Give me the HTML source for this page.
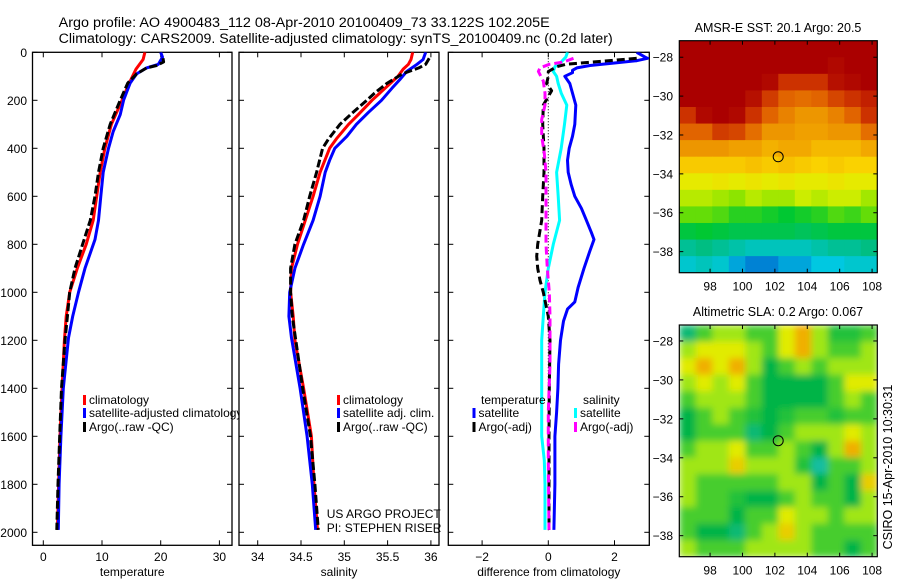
<!DOCTYPE html>
<html><head><meta charset="utf-8">
<style>
html,body{margin:0;padding:0;background:#fff;}
svg{display:block;font-family:"Liberation Sans",sans-serif;}
text{font-size:12px;fill:#000;}
</style></head>
<body>
<svg id="fig" width="900" height="580" viewBox="0 0 900 580" xmlns="http://www.w3.org/2000/svg">
<defs>
  <clipPath id="c1"><rect x="32.5" y="52.3" width="199.5" height="493"/></clipPath>
  <clipPath id="c2"><rect x="239" y="52.3" width="200" height="493"/></clipPath>
  <clipPath id="c3"><rect x="448.3" y="52.3" width="201" height="493"/></clipPath>
  <clipPath id="cm1"><rect x="679.3" y="40.7" width="198" height="232"/></clipPath>
  <clipPath id="cm2"><rect x="679.3" y="325" width="198" height="231.7"/></clipPath>
  <filter id="blur" x="0" y="0" width="1" height="1" filterUnits="objectBoundingBox">
    <feGaussianBlur stdDeviation="3.5" edgeMode="duplicate"/>
  </filter>
</defs>
<text x="58.7" y="27" style="font-size:13.5px" textLength="491" lengthAdjust="spacingAndGlyphs">Argo profile: AO 4900483_112 08-Apr-2010 20100409_73 33.122S 102.205E</text>
<text x="58.7" y="43" style="font-size:13.5px" textLength="554" lengthAdjust="spacingAndGlyphs">Climatology: CARS2009. Satellite-adjusted climatology: synTS_20100409.nc (0.2d later)</text>
<g id="p1"></g>
<g id="p2"></g>
<g id="p3"></g>
<g id="m1"></g>
<g id="m2"></g>
<text transform="translate(892,467) rotate(-90)" text-anchor="middle" style="font-size:12.5px">CSIRO 15-Apr-2010 10:30:31</text>
</svg>
<script>
// ---------- data ----------
const tDepth = [0,30,70,130,200,300,400,500,600,700,800,900,1000,1100,1200,1400,1600,1800,1990];
const tClim  = [17.3,17.0,15.8,14.6,13.4,11.6,10.5,9.7,9.1,8.5,7.3,5.8,4.5,3.9,3.6,3.2,2.85,2.6,2.4];
const tSatDepth = [0,20,50,65,90,128,198,260,330,400,500,600,700,780,900,1000,1100,1190,1400,1600,1800,1990];
const tSat  = [20.0,20.3,19.6,17.6,15.9,14.8,13.7,13.1,11.9,11.1,10.2,9.8,9.4,8.8,7.1,6.0,5.0,4.3,3.4,3.0,2.7,2.56];
const tArgoDepth = [25,40,55,65,90,128,200,300,400,500,600,700,800,900,1000,1100,1200,1400,1600,1800,1990];
const tArgo = [20.4,20.5,19.3,17.6,15.9,14.4,13.1,11.4,10.2,9.4,8.8,8.0,6.7,5.4,4.5,4.1,3.7,3.1,2.8,2.5,2.3];

const sDepth = [0,30,50,70,100,130,170,200,260,300,360,400,500,600,700,800,900,1000,1100,1200,1400,1600,1800,1990];
const sClim  = [35.79,35.77,35.74,35.68,35.62,35.53,35.41,35.32,35.16,35.05,34.91,34.83,34.72,34.64,34.55,34.46,34.39,34.38,34.41,34.43,34.53,34.62,34.65,34.69];
const sSatDepth = [0,30,50,80,110,150,200,250,300,350,400,450,500,600,700,800,900,1000,1100,1190,1400,1600,1800,1990];
const sSat  = [35.94,35.91,35.84,35.72,35.65,35.55,35.43,35.28,35.14,35.03,34.89,34.83,34.78,34.72,34.64,34.53,34.43,34.37,34.36,34.39,34.49,34.57,34.63,34.67];
const sArgoDepth = [25,50,65,90,130,170,200,260,300,360,400,500,600,700,800,900,1000,1100,1200,1400,1600,1800,1990];
const sArgo = [35.98,35.94,35.86,35.67,35.49,35.35,35.26,35.07,34.95,34.82,34.75,34.68,34.60,34.53,34.43,34.38,34.38,34.40,34.44,34.52,34.61,34.66,34.70];

const dTSatDepth = [0,20,25,35,45,55,65,75,85,100,130,170,220,300,350,400,450,500,550,600,650,700,750,780,830,900,980,1040,1070,1120,1200,1300,1400,1500,1600,1800,1990];
const dTSat = [2.67,2.92,3.0,2.67,1.96,1.26,0.86,0.73,0.73,0.5,0.65,0.73,0.83,0.8,0.73,0.63,0.58,0.6,0.69,0.8,1.0,1.15,1.3,1.38,1.25,1.08,0.9,0.8,0.58,0.46,0.37,0.31,0.29,0.25,0.2,0.2,0.17];
const dSSatDepth = [0,20,40,60,80,100,130,170,220,300,400,500,600,700,800,900,1000,1100,1200,1400,1600,1700,1800,1990];
const dSSat = [0.58,0.53,0.39,0.2,0.15,0.25,0.3,0.39,0.56,0.49,0.39,0.25,0.3,0.34,0.15,0.0,-0.1,-0.15,-0.2,-0.2,-0.2,-0.12,-0.1,-0.1];
const dTArgoDepth = [25,50,60,80,100,130,160,220,300,400,500,600,700,800,850,900,950,1000,1100,1200,1400,1600,1800,1990];
const dTArgo = [2.67,0.53,0.26,0.0,0.0,-0.05,0.1,-0.15,-0.17,-0.13,-0.13,-0.17,-0.2,-0.32,-0.35,-0.32,-0.25,-0.15,0.0,0.05,0.03,0.02,0.02,0.02];
const dSArgoDepth = [25,40,50,65,80,120,170,220,280,350,420,500,600,700,800,900,1000,1100,1300,1500,1700,1990];
const dSArgo = [0.76,0.47,0.03,-0.25,-0.3,-0.15,-0.1,-0.1,-0.2,-0.2,-0.12,-0.07,-0.07,-0.07,-0.07,-0.03,0.03,0.05,0.05,0.0,0.0,0.02];

const depthTicks = [0,200,400,600,800,1000,1200,1400,1600,1800,2000];
const tTicks = [0,10,20,30];
const sTicks = [34,34.5,35,35.5,36];
const dTicks = [-2,0,2];
const lonTicks = [98,100,102,104,106,108];
const latTicks = [-28,-30,-32,-34,-36,-38];

const sstGrid = [
 [23,23,23,23,23,23,23,23,23,23,23,23],
 [23,23,23,23,23,23,23,22.7,22.6,22.5,22.6,23],
 [23,23,23,23,23,22.5,22,22,22,22.4,22.5,23],
 [23,23,23,22.8,22.4,21.9,21.5,21.4,21.5,21.8,22,22.2],
 [22,22.5,22.8,22.5,22,21.5,21.2,21,21,21.2,21.5,22],
 [21.5,21.5,21.9,21.8,21.4,21,21,20.9,20.9,21,21,21.4],
 [21,21,21,20.9,20.9,20.7,20.8,20.8,20.6,20.6,20.6,20.8],
 [20.4,20.4,20.4,20.4,20.5,20.4,20.5,20.4,20.3,20.4,20.3,20.3],
 [19.9,19.9,20,19.9,20,19.9,20,19.9,19.9,20,19.9,19.9],
 [19.6,19.6,19.5,19.4,19.6,19.5,19.5,19.7,19.6,19.7,19.7,19.5],
 [19.2,19.2,19.1,18.9,18.9,18.8,18.7,18.8,18.9,19.1,19.0,19.2],
 [18.6,18.7,18.6,18.5,18.5,18.5,18.5,18.4,18.5,18.6,18.6,18.6],
 [18.0,18.1,18.0,17.9,17.8,17.8,17.8,17.8,17.9,18.0,18.0,18.1],
 [17.7,17.8,17.7,17.5,17.4,17.4,17.5,17.5,17.6,17.6,17.7,17.7]
];
const slaGrid = [
 [-1.5,0,1,1,0,0,2,3,1,-0.5,-0.5,0],
 [1,2,2,2,1,0,2,3,1,0,0,1],
 [2,3,2,3,1,-1,0,1,0,1,1,1],
 [1,2,1,2,0,-1,-1,-1,-1,0,2,2],
 [0,1,1,1,0,-1,-1,-1,-1,0,1,0],
 [-1,0,1,0,-0.5,-1,-0.5,0,0,-0.5,0,0],
 [-1,0,0,0,-1.5,-1,0,1,1,1,2,1],
 [0,1,1,2,0,0,1,0,-1,1,3,1],
 [1,1,1,2.5,1,1,1,-0.5,-2,0,0,1],
 [1,0,0,0,0,0,1,1,-1,0,-1,2.5],
 [1,0,0,-0.5,-1,-1,0,1,0,0,-1,1],
 [0,0,0,-1,0,0,2,1,1,0,1,1],
 [0,-1,-1,-1.5,0,1,2.5,1,0,0,0,0],
 [1,0,0,0,1,1,1,1,0,0,-1,0]
];
const argoLon = 102.205, argoLat = -33.122;

// ---------- scales ----------
const yD = d => 52.3 + d*0.24;
const xT = t => 43.3 + t*5.87;
const xS = s => 257.7 + (s-34)*86.6;
const xDf = v => 548.3 + v*33.1;
const NS = "http://www.w3.org/2000/svg";
function mk(tag, attrs, parent){ const e=document.createElementNS(NS,tag); for(const k in attrs) e.setAttribute(k,attrs[k]); parent.appendChild(e); return e; }

function panel(g, x0, x1, clipId, xs, ticks, tickFmt, xlabel, showY){
  const fr = mk('rect',{x:x0,y:52.3,width:x1-x0,height:493,fill:'#fff',stroke:'#000','stroke-width':1.3},g);
  
  
  depthTicks.forEach(d=>{
    const y=yD(d);
    mk('line',{x1:x0,x2:x0+5,y1:y,y2:y,stroke:'#000'},g);
    mk('line',{x1:x1-5,x2:x1,y1:y,y2:y,stroke:'#000'},g);
    if(showY){
      const t=mk('text',{x:27,y:y+4.5,'text-anchor':'end'},g); t.textContent=d;
      
      
    }
  });
  ticks.forEach(v=>{
    const x=xs(v);
    mk('line',{x1:x,x2:x,y1:545.3,y2:540.3,stroke:'#000'},g);
    mk('line',{x1:x,x2:x,y1:52.3,y2:57.3,stroke:'#000'},g);
    const t=mk('text',{x:x,y:561,'text-anchor':'middle'},g); t.textContent=tickFmt(v);
    
    
  });
  const xl=mk('text',{x:(x0+x1)/2,y:576,'text-anchor':'middle'},g); xl.textContent=xlabel;
  
  
  const lg=mk('g',{'clip-path':'url(#'+clipId+')'},g);
  return lg;
}
function line(g, depths, vals, xs, color, dash, name){
  const pts=depths.map((d,i)=>xs(vals[i]).toFixed(1)+','+yD(d).toFixed(1)).join(' ');
  const p=mk('polyline',{points:pts,fill:'none',stroke:color,'stroke-width':3,'stroke-linejoin':'round'},g);
  if(dash) p.setAttribute('stroke-dasharray',dash);
  
  
}
function legend(g, x, y, color, label, name){
  mk('rect',{x:x,y:y-9,width:3,height:10,fill:color},g);
  const t=mk('text',{x:x+6,y:y},g); t.textContent=label;
  
  
}

const g1=document.getElementById('p1');
const l1=panel(g1,32.5,232,'c1',xT,tTicks,v=>v,'temperature',true);
line(l1,tDepth,tClim,xT,'#f00',null,'temp-climatology-line');
line(l1,tSatDepth,tSat,xT,'#00f',null,'temp-satellite-line');
line(l1,tArgoDepth,tArgo,xT,'#000','8 3','temp-argo-line');
legend(g1,83,404,'#f00','climatology','legend-climatology');
legend(g1,83,417,'#00f','satellite-adjusted climatology','legend-satellite');
legend(g1,83,431,'#000','Argo(..raw -QC)','legend-argo');

const g2=document.getElementById('p2');
const l2=panel(g2,239,439,'c2',xS,sTicks,v=>v,'salinity',false);
line(l2,sDepth,sClim,xS,'#f00',null,'sal-climatology-line');
line(l2,sSatDepth,sSat,xS,'#00f',null,'sal-satellite-line');
line(l2,sArgoDepth,sArgo,xS,'#000','8 3','sal-argo-line');
legend(g2,337,404,'#f00','climatology','legend-climatology');
legend(g2,337,417,'#00f','satellite adj. clim.','legend-satellite');
legend(g2,337,431,'#000','Argo(..raw -QC)','legend-argo');
const pa=mk('text',{x:326.7,y:518},g2); pa.textContent='US ARGO PROJECT';


const pi=mk('text',{x:326.7,y:532},g2); pi.textContent='PI: STEPHEN RISER';


mk('rect',{x:440.5,y:500,width:7,height:40,fill:'#fff'},g2);

const g3=document.getElementById('p3');
const l3=panel(g3,448.3,649.3,'c3',xDf,dTicks,v=>v===0?'0':(v<0?'\u2212'+(-v):v),'difference from climatology',false);
mk('line',{x1:xDf(0),x2:xDf(0),y1:52.3,y2:yD(2000),stroke:'#000','stroke-width':1,'stroke-dasharray':'1 2'},l3);
line(l3,dTSatDepth,dTSat,xDf,'#00f',null,'diff-temp-satellite-line');
line(l3,dSSatDepth,dSSat,xDf,'#0ff',null,'diff-sal-satellite-line');
line(l3,dTArgoDepth,dTArgo,xDf,'#000','8 4','diff-temp-argo-line');
line(l3,dSArgoDepth,dSArgo,xDf,'#f0f','8 4','diff-sal-argo-line');
const tt=mk('text',{x:481,y:404},g3); tt.textContent='temperature';


const st=mk('text',{x:583,y:404},g3); st.textContent='salinity';


legend(g3,472.5,417,'#00f','satellite','legend-temp-satellite');
legend(g3,472.5,431,'#000','Argo(-adj)','legend-temp-argo');
legend(g3,574,417,'#0ff','satellite','legend-sal-satellite');
legend(g3,574,431,'#f0f','Argo(-adj)','legend-sal-argo');

const lonL=96.1, pxLon=16.2;
const mxL = lon => 679.3 + (lon-lonL)*pxLon;
function lerpColor(stops,v){
  if(v<=stops[0][0]) return stops[0][1];
  for(let i=1;i<stops.length;i++){
    if(v<=stops[i][0]){const a=stops[i-1],b=stops[i],f=(v-a[0])/(b[0]-a[0]);
      return a[1].map((c,k)=>Math.round(c+(b[1][k]-c)*f));}
  }
  return stops[stops.length-1][1];
}
const sstStops=[[17.2,[0,60,200]],[17.6,[0,200,225]],[18.1,[0,190,130]],[18.7,[0,200,50]],[19.3,[120,225,0]],[19.8,[225,240,0]],[20.3,[250,210,0]],[20.9,[240,160,0]],[21.5,[225,100,0]],[22.1,[200,40,0]],[22.6,[170,0,0]]];
const slaStops=[[-2,[20,190,160]],[-1,[0,180,70]],[0,[70,205,45]],[1,[160,230,20]],[2,[225,235,0]],[3,[240,175,0]]];

function map(gid, top, bot, latTop, pxLat, grid, stops, clipId, blur, title, titleY){
  const g=document.getElementById(gid);
  const my = lat => top + (latTop-lat)*pxLat;
  const cg=mk('g',{'clip-path':'url(#'+clipId+')'},g);
  const hg=mk('g',blur?{filter:'url(#blur)'}:{},cg);
  const rows=grid.length, cols=grid[0].length;
  const cw=(877.3-679.3)/cols, ch=(bot-top)/rows;
  grid.forEach((row,r)=>row.forEach((v,c)=>{
    const col=lerpColor(stops,v);
    const cell=mk('rect',{x:(679.3+c*cw).toFixed(2),y:(top+r*ch).toFixed(2),width:(cw+0.6).toFixed(2),height:(ch+0.6).toFixed(2),fill:'rgb('+col.join(',')+')'},hg);
    
    
  }));
  mk('rect',{x:679.3,y:top,width:198,height:bot-top,fill:'none',stroke:'#000','stroke-width':1.2},g);
  lonTicks.forEach(l=>{
    const x=mxL(l);
    mk('line',{x1:x,x2:x,y1:bot,y2:bot-4,stroke:'#000'},g);
    mk('line',{x1:x,x2:x,y1:top,y2:top+4,stroke:'#000'},g);
    const t=mk('text',{x:x,y:bot+18,'text-anchor':'middle'},g); t.textContent=l;
    
    
  });
  latTicks.forEach(l=>{
    const y=my(l);
    mk('line',{x1:679.3,x2:683.3,y1:y,y2:y,stroke:'#000'},g);
    mk('line',{x1:873.3,x2:877.3,y1:y,y2:y,stroke:'#000'},g);
    const t=mk('text',{x:673,y:y+4.5,'text-anchor':'end'},g); t.textContent='\u2212'+(-l);
    
    
  });
  const m=mk('circle',{cx:mxL(argoLon),cy:my(argoLat),r:5,fill:'none',stroke:'#000','stroke-width':1},g);
  
  
  const tl=mk('text',{x:778,y:titleY,'text-anchor':'middle',style:'font-size:12.5px'},g); tl.textContent=title;
  
  
}
map('m1',40.7,272.7,-27.15,19.44,sstGrid,sstStops,'cm1',false,'AMSR-E SST: 20.1 Argo: 20.5',32);
map('m2',325,556.7,-27.18,19.47,slaGrid,slaStops,'cm2',true,'Altimetric SLA: 0.2 Argo: 0.067',316);
</script>
</body></html>
